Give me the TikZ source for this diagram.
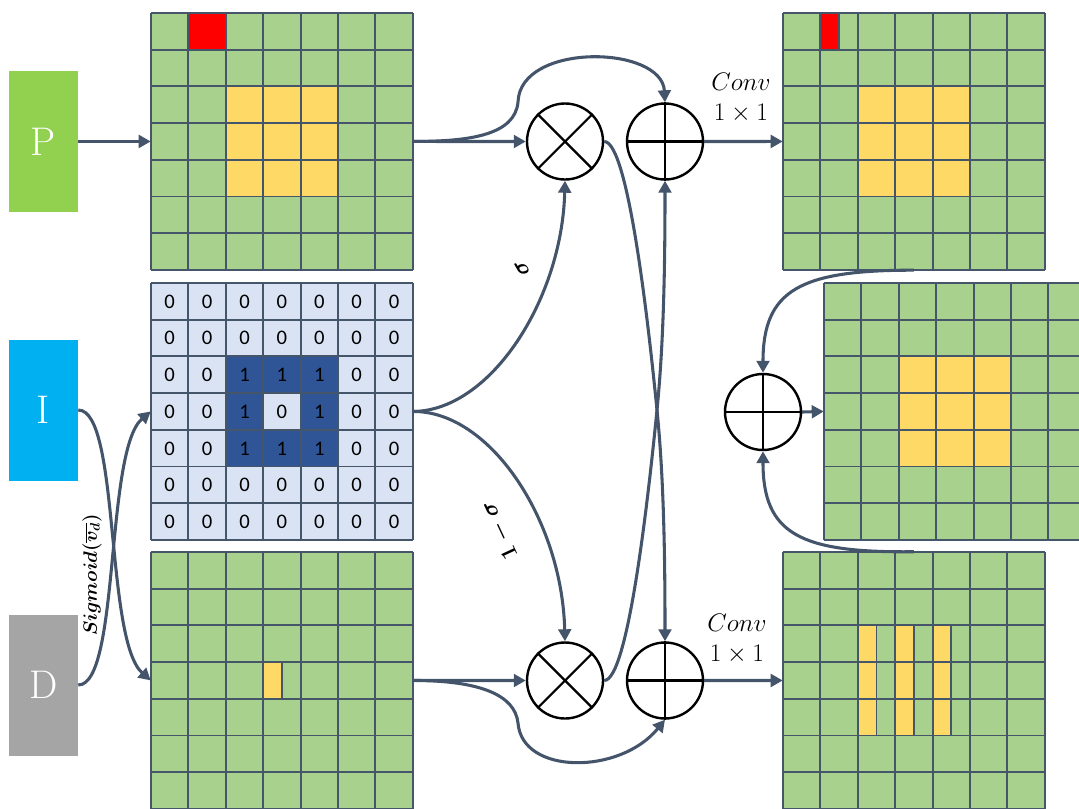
\RequirePackage{fix-cm}
\documentclass[tikz,border=0pt]{standalone}
\usepackage{fontspec}
\newfontfamily\numfont{Carlito}
\usetikzlibrary{arrows.meta}
\definecolor{gfill}{HTML}{A9D18E}
\definecolor{yfill}{HTML}{FFD966}
\definecolor{rfill}{HTML}{FF0000}
\definecolor{lfill}{HTML}{DAE3F3}
\definecolor{dfill}{HTML}{2F5597}
\definecolor{gline}{HTML}{46566A}
\definecolor{arrowc}{HTML}{44546A}
\definecolor{pcol}{HTML}{92D050}
\definecolor{icol}{HTML}{00B0F0}
\definecolor{dcol}{HTML}{A5A5A5}
\newcommand\sigtext{{\boldmath$Sigmoid(\overline{v_d})$}}
\newcommand\sigmatext{{\boldmath$\sigma$}}
\newcommand\onesigmatext{{\boldmath$1-\sigma$}}
\tikzset{
  gridbox/.style={inner sep=0pt, minimum width=196.35pt, minimum height=192.7pt},
  gridline/.style={draw=gline, line width=1.4pt},
  inbox/.style={inner sep=0pt, minimum width=51.75pt, minimum height=105.75pt, text=white, font=\fontsize{30}{34}\selectfont},
  opnode/.style={circle, draw=black, line width=1.8pt, minimum size=57pt, inner sep=0pt},
  opline/.style={draw=black, line width=1.6pt},
  conn/.style={draw=arrowc, line width=2.3pt, -{Triangle[length=9pt,width=9.5pt]}},
  numtext/.style={inner sep=0pt, font=\numfont\fontsize{15.5}{18}\selectfont},
  convlab/.style={align=center, inner sep=0pt, font=\fontsize{19}{23}\selectfont},
  sigfont/.style={inner sep=0pt, font=\fontsize{14.5}{17}\selectfont},
  greekfont/.style={inner sep=0pt, font=\fontsize{17}{20}\selectfont},
}
\newcommand\basegrid[4]{% name, x0, y0, colour
  \fill[#4] (#2,#3) rectangle ++(261.8,256.9);
  \node[gridbox] (#1) at (#2+130.9,#3+128.45) {};}
\newcommand\cellfill[5]{% x0, y0, col, row, colour
  \fill[#5] (#1+#3*37.4,#2+#4*36.7) rectangle ++(37.4,36.7);}
\newcommand\halffill[5]{% x0, y0, col, row, colour
  \fill[#5] (#1+#3*37.4,#2+#4*36.7) rectangle ++(18.7,36.7);
  \draw[gridline] (#1+#3*37.4+18.7,#2+#4*36.7) -- ++(0,36.7);}
\newcommand\gridlines[2]{%
  \foreach \k in {0,...,7} {\draw[gridline] (#1+\k*37.4,#2) -- ++(0,256.9);
    \draw[gridline] (#1,#2+\k*36.7) -- ++(261.8,0);}}
\begin{document}
\begin{tikzpicture}[x=0.75pt,y=-0.75pt]
\clip (0,0) rectangle (1079,808);
\useasboundingbox (0,0) rectangle (1079,808);

% input boxes
\node[inbox, fill=pcol] (P) at (43.5,141.45) {P};
\node[inbox, fill=icol] (I) at (43.5,410) {I};
\node[inbox, fill=dcol] (D) at (43.5,685) {D};

% P grid
\basegrid{pg}{151}{13}{gfill}
\cellfill{151}{13}{1}{0}{rfill}
\foreach \c in {2,3,4}{\foreach \r in {2,3,4}{\cellfill{151}{13}{\c}{\r}{yfill}}}
\gridlines{151}{13}

% I grid
\basegrid{ig}{151}{283}{lfill}
\foreach \c in {0,...,6}{\foreach \r in {0,...,6}{
  \pgfmathtruncatemacro\cv{and(and(\c>1,\c<5),and(\r>1,\r<5))*(1-and(\c==3,\r==3))}
  \ifnum\cv=1 \cellfill{151}{283}{\c}{\r}{dfill}\fi}}
\gridlines{151}{283}
\foreach \c in {0,...,6}{\foreach \r in {0,...,6}{
  \pgfmathtruncatemacro\cv{and(and(\c>1,\c<5),and(\r>1,\r<5))*(1-and(\c==3,\r==3))}
  \node[numtext] (n\c\r) at (151+\c*37.4+18.7,283+\r*36.7+18.6) {\cv};}}

% D grid
\basegrid{dg}{151}{552}{gfill}
\fill[yfill] (151+3*37.4,552+3*36.7) rectangle ++(18.7,36.7);
\gridlines{151}{552}
\draw[gridline] (151+3*37.4+18.7,552+3*36.7) -- ++(0,36.7);

% top-right grid
\basegrid{trg}{783}{13}{gfill}
\fill[rfill] (783+37.4,13) rectangle ++(18.7,36.7);
\foreach \c in {2,3,4}{\foreach \r in {2,3,4}{\cellfill{783}{13}{\c}{\r}{yfill}}}
\gridlines{783}{13}
\draw[gridline] (783+37.4+18.7,13) -- ++(0,36.7);

% middle-right grid
\basegrid{mrg}{824}{283}{gfill}
\foreach \c in {2,3,4}{\foreach \r in {2,3,4}{\cellfill{824}{283}{\c}{\r}{yfill}}}
\gridlines{824}{283}

% bottom-right grid
\basegrid{brg}{783}{552}{gfill}
\gridlines{783}{552}
\foreach \c in {2,3,4}{\foreach \r in {2,3,4}{\halffill{783}{552}{\c}{\r}{yfill}
  \draw[gridline] (783+\c*37.4,552+\r*36.7) rectangle ++(18.7,36.7);}}

% operators
\node[opnode] (mt) at (565,141.5) {};
\node[opnode] (pt) at (665,141.5) {};
\node[opnode] (mb) at (565,680.5) {};
\node[opnode] (pb) at (665,680.5) {};
\node[opnode] (pr) at (763,412) {};
\foreach \n in {mt,mb}{\draw[opline] (\n.45) -- (\n.225) (\n.135) -- (\n.315);}
\foreach \n in {pt,pb,pr}{\draw[opline] (\n.north) -- (\n.south) (\n.west) -- (\n.east);}

% connectors
\draw[conn] (P.east) -- (pg.west);
\draw[conn] (pg.east) -- (mt.west);
\draw[conn] (pg.east) .. controls (470,141.5) and (515,135) .. (518,102)
  .. controls (520,42) and (662,45) .. (pt.north);
\draw[conn] (pt.east) -- (trg.west);
\draw[conn] (I.east) .. controls (120,410) and (105,640) .. (dg.west);
\draw[conn] (D.east) .. controls (120,685) and (105,450) .. (ig.west);
\draw[conn] (ig.east) .. controls (490,411) and (562,300) .. (mt.south);
\draw[conn] (ig.east) .. controls (490,411) and (562,520) .. (mb.north);
\draw[conn] (mt.east) .. controls (628,141.5) and (648,320) .. (657,410)
  .. controls (664,480) and (665,560) .. (pb.north);
\draw[conn] (mb.east) .. controls (628,680.5) and (648,500) .. (657,410)
  .. controls (664,340) and (665,260) .. (pt.south);
\draw[conn] (dg.east) -- (mb.west);
\draw[conn] (dg.east) .. controls (480,680.5) and (515,695) .. (518,723)
  .. controls (522,775) and (620,775) .. (pb.south);
\draw[conn] (pb.east) -- (brg.west);
\draw[conn] (trg.south) .. controls (800,270) and (763,290) .. (pr.north);
\draw[conn] (brg.north) .. controls (800,553) and (763,534) .. (pr.south);
\draw[conn] (pr.east) -- (mrg.west);

% labels
\node[convlab] (c1) at (741,98) {$Conv$\\$1\times1$};
\node[convlab] (c2) at (737,639) {$Conv$\\$1\times1$};
\node[sigfont, rotate=90] (sg) at (92,575) {\sigtext};
\node[greekfont, rotate=120] (s1) at (522,268) {\sigmatext};
\node[greekfont, rotate=115] (s2) at (500,530) {\onesigmatext};
\end{tikzpicture}
\end{document}
